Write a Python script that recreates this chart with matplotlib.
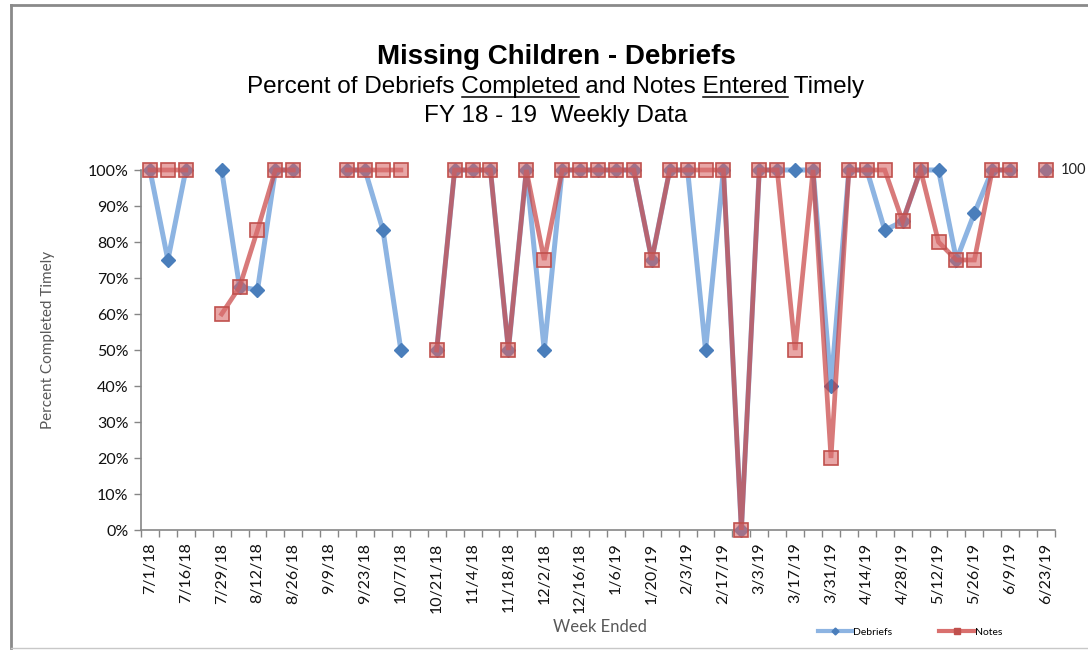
import numpy as np
import matplotlib
matplotlib.use("Agg")
import matplotlib.pyplot as plt
from matplotlib.lines import Line2D

nan = np.nan

weeks = ["7/1/18", "7/8/18", "7/16/18", "7/22/18", "7/29/18", "8/5/18", "8/12/18", "8/19/18",
         "8/26/18", "9/2/18", "9/9/18", "9/16/18", "9/23/18", "9/30/18", "10/7/18", "10/14/18",
         "10/21/18", "10/28/18", "11/4/18", "11/11/18", "11/18/18", "11/25/18", "12/2/18", "12/9/18",
         "12/16/18", "12/30/18", "1/6/19", "1/13/19", "1/20/19", "1/27/19", "2/3/19", "2/10/19",
         "2/17/19", "2/24/19", "3/3/19", "3/10/19", "3/17/19", "3/24/19", "3/31/19", "4/7/19",
         "4/14/19", "4/21/19", "4/28/19", "5/5/19", "5/12/19", "5/19/19", "5/26/19", "6/2/19",
         "6/9/19", "6/16/19", "6/23/19"]

debriefs = [100, 75, 100, nan, 100, 67.5, 66.7, 100, 100, nan, nan, 100, 100, 83.3, 50, nan,
            50, 100, 100, 100, 50, 100, 50, 100, 100, 100, 100, 100, 75, 100, 100, 50,
            100, 0, 100, 100, 100, 100, 40, 100, 100, 83.3, 85.7, 100, 100, 75, 88, 100,
            100, nan, 100]

notes = [100, 100, 100, nan, 60, 67.5, 83.3, 100, 100, nan, nan, 100, 100, 100, 100, nan,
         50, 100, 100, 100, 50, 100, 75, 100, 100, 100, 100, 100, 75, 100, 100, 100,
         100, 0, 100, 100, 50, 100, 20, 100, 100, 100, 85.7, 100, 80, 75, 75, 100,
         100, nan, 100]

W, H = 1088, 650
TITLE_FONT = ["Liberation Sans Narrow", "Liberation Sans", "DejaVu Sans"]
TICK_FONT = ["Lato", "DejaVu Sans"]
SUB_SIZE = 17.5

plt.rcParams["font.family"] = TICK_FONT

fig = plt.figure(figsize=(W / 100, H / 100), dpi=100)
ax = fig.add_axes([141 / W, 1 - 530 / H, (1055 - 141) / W, 360 / H])

x = np.arange(len(weeks))

# blue line with diamonds
ax.plot(x, debriefs, color="#8db4e2", lw=3.6, solid_joinstyle="miter", zorder=2, clip_on=False)
ax.plot(x, debriefs, ls="none", marker="D", ms=7, color="#4a7ebb", mec="#4a7ebb", zorder=3, clip_on=False)

# red line on top, semi transparent so overlaps go mauve
ax.plot(x, notes, color="#c84242", alpha=0.7, lw=3.4, solid_joinstyle="miter", zorder=4, clip_on=False)
ax.plot(x, notes, ls="none", marker="s", ms=9.5, mfc=(0.85, 0.42, 0.42, 0.6), mec="#c0504d",
        mew=1.2, zorder=5, clip_on=False)

ax.annotate("100", (x[-1], notes[-1]), xytext=(15, 0), textcoords="offset pixels",
            va="center", ha="left", fontsize=10.5, color="#222222", annotation_clip=False)

ax.set_xlim(-0.5, len(weeks) - 0.5)
ax.set_ylim(0, 100)

ax.set_yticks(np.arange(0, 101, 10))
ax.set_yticklabels([f"{v}%" for v in range(0, 101, 10)])
ax.set_xticks(x[::2])
ax.set_xticklabels(weeks[::2], rotation=90)
ax.set_xticks(np.arange(-0.5, len(weeks)), minor=True)

ax.tick_params(axis="y", direction="out", length=5, width=1, color="#868686",
               labelsize=11.5, pad=4, labelcolor="#111111")
ax.tick_params(axis="x", which="major", length=0, labelsize=11.5, pad=9, labelcolor="#111111")
ax.tick_params(axis="x", which="minor", direction="out", length=5, width=1, color="#868686")

for s in ["top", "right"]:
    ax.spines[s].set_visible(False)
for s in ["left", "bottom"]:
    ax.spines[s].set_color("#868686")
    ax.spines[s].set_linewidth(1.2)

# axis titles
fig.text(48 / W, 1 - 340 / H, "Percent Completed Timely", rotation=90, ha="center", va="center",
         fontsize=11, color="#595959")
fig.text(600 / W, 1 - 627 / H, "Week Ended", ha="center", va="center", fontsize=12, color="#595959")

# titles
cx = 556 / W
fig.text(cx, 1 - 57 / H, "Missing Children - Debriefs", ha="center", va="center",
         fontsize=20, fontweight="bold", family=TITLE_FONT)
sub = "Percent of Debriefs Completed and Notes Entered Timely"
t2 = fig.text(cx, 1 - 87 / H, sub, ha="center", va="center", fontsize=SUB_SIZE, family=TITLE_FONT)
fig.text(cx, 1 - 116 / H, "FY 18 - 19  Weekly Data", ha="center", va="center",
         fontsize=SUB_SIZE, family=TITLE_FONT)

# underline two words in the subtitle
renderer = fig.canvas.get_renderer()
full_bb = t2.get_window_extent(renderer)


def text_width(s):
    tmp = fig.text(0, 0, s, fontsize=SUB_SIZE, family=TITLE_FONT)
    w = tmp.get_window_extent(renderer).width
    tmp.remove()
    return w


for word in ["Completed", "Entered"]:
    upto = sub[:sub.index(word) + len(word)]
    right = full_bb.x0 + text_width(upto)
    left = right - text_width(word)
    yline = full_bb.y0 + 1
    fig.add_artist(Line2D([left / W, right / W], [yline / H, yline / H],
                          transform=fig.transFigure, color="black", lw=1.1))

# legend
handles = [Line2D([], [], color="#8db4e2", lw=3, marker="D", ms=3.5, mfc="#4a7ebb", mec="#4a7ebb"),
           Line2D([], [], color="#d9706e", lw=3, marker="s", ms=4, mfc="#c0504d", mec="#c0504d")]
fig.legend(handles, ["Debriefs", "Notes"], loc="center", bbox_to_anchor=(910 / W, 1 - 632 / H),
           ncol=2, frameon=False, fontsize=7.5, handlelength=3.3, handletextpad=0.1,
           columnspacing=4.5)

# chart border (left, top, bottom)
fig.add_artist(Line2D([11 / W, 11 / W], [1 - 648 / H, 1 - 5 / H], transform=fig.transFigure,
                      color="#8a8a8a", lw=2))
fig.add_artist(Line2D([11 / W, 1.0], [1 - 5 / H, 1 - 5 / H], transform=fig.transFigure,
                      color="#8a8a8a", lw=2))
fig.add_artist(Line2D([11 / W, 1.0], [1 - 648 / H, 1 - 648 / H], transform=fig.transFigure,
                      color="#c8c8c8", lw=1))

fig.savefig("out.png", dpi=100)
